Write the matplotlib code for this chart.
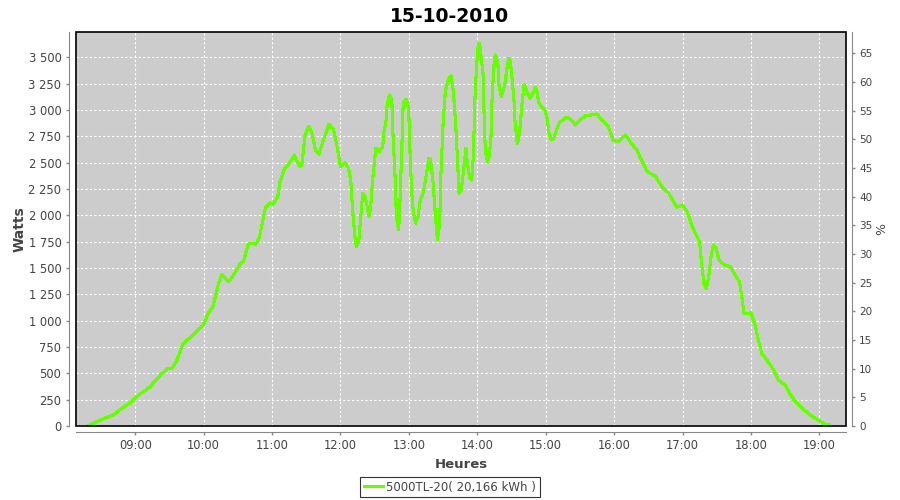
import matplotlib
matplotlib.use("Agg")
import matplotlib.pyplot as plt
from matplotlib.ticker import FuncFormatter, MultipleLocator
from matplotlib.patches import Rectangle
from matplotlib.lines import Line2D

title = "15-10-2010"
serie_label = "5000TL-20( 20,166 kWh )"

# heure (HH:MM:SS) et puissance (W)
heures = [
    "08:18:30", "08:20:00", "08:29:00", "08:41:00", "08:48:00", "08:55:00", "09:01:00", "09:13:00",
    "09:22:00", "09:27:30", "09:32:00", "09:36:00", "09:42:00", "09:51:00", "10:00:00", "10:04:00",
    "10:08:00", "10:11:00", "10:13:00", "10:16:00", "10:22:00", "10:27:00", "10:32:00", "10:35:00",
    "10:39:00", "10:42:00", "10:46:00", "10:49:00", "10:54:00", "10:58:00", "11:01:00", "11:05:00",
    "11:07:00", "11:11:00", "11:15:00", "11:19:30", "11:24:00", "11:26:00", "11:29:00", "11:32:00",
    "11:35:00", "11:38:00", "11:41:00", "11:45:00", "11:50:00", "11:54:00", "11:57:00", "12:00:00",
    "12:04:00", "12:07:00", "12:09:00", "12:10:00", "12:11:00", "12:13:00", "12:14:00", "12:16:00",
    "12:18:00", "12:19:30", "12:21:30", "12:23:30", "12:25:00", "12:26:30", "12:28:00", "12:30:00",
    "12:31:00", "12:34:00", "12:37:00", "12:38:00", "12:40:00", "12:41:00", "12:43:00", "12:45:00",
    "12:46:00", "12:48:00", "12:49:00", "12:51:00", "12:52:00", "12:54:00", "12:55:00", "12:57:30",
    "12:59:00", "13:00:00", "13:01:00", "13:02:30", "13:04:00", "13:06:00", "13:08:00", "13:10:00",
    "13:12:30", "13:15:30", "13:17:30", "13:19:00", "13:21:00", "13:24:00", "13:25:00", "13:27:00",
    "13:28:00", "13:30:00", "13:32:00", "13:35:00", "13:37:00", "13:39:00", "13:41:00", "13:42:30",
    "13:44:00", "13:46:00", "13:48:00", "13:50:00", "13:51:00", "13:53:00", "13:55:00", "13:56:30",
    "13:58:00", "13:59:30", "14:01:00", "14:02:00", "14:03:00", "14:05:00", "14:06:00", "14:07:00",
    "14:09:00", "14:10:30", "14:12:00", "14:13:00", "14:15:00", "14:16:00", "14:18:00", "14:19:00",
    "14:21:00", "14:22:00", "14:24:00", "14:26:00", "14:27:30", "14:29:00", "14:30:00", "14:32:00",
    "14:33:00", "14:35:00", "14:36:00", "14:37:30", "14:39:00", "14:41:00", "14:43:00", "14:46:00",
    "14:48:00", "14:51:00", "14:52:00", "14:54:00", "14:56:30", "14:59:00", "15:01:00", "15:03:00",
    "15:05:00", "15:07:00", "15:10:00", "15:12:00", "15:15:00", "15:18:00", "15:21:00", "15:26:00",
    "15:30:00", "15:34:30", "15:40:00", "15:45:00", "15:49:00", "15:55:00", "15:59:00", "16:04:00",
    "16:10:00", "16:15:00", "16:20:00", "16:24:00", "16:29:00", "16:36:00", "16:42:00", "16:48:00",
    "16:55:00", "17:00:00", "17:04:00", "17:08:00", "17:11:00", "17:15:00", "17:17:00", "17:19:00",
    "17:21:00", "17:23:00", "17:25:00", "17:27:00", "17:29:30", "17:32:00", "17:37:00", "17:42:00",
    "17:46:00", "17:50:00", "17:52:00", "17:54:00", "17:57:00", "18:00:00", "18:04:00", "18:06:30",
    "18:09:30", "18:14:00", "18:20:00", "18:24:00", "18:30:00", "18:34:00", "18:39:00", "18:45:00",
    "18:52:00", "18:59:00", "19:05:00", "19:09:00",
]
watts = [
    0, 10, 57, 107, 168, 215, 278, 373,
    484, 541, 548, 611, 785, 864, 969, 1070,
    1133, 1260, 1355, 1434, 1371, 1450, 1539, 1567,
    1726, 1735, 1726, 1798, 2068, 2121, 2108, 2178,
    2320, 2447, 2495, 2574, 2463, 2479, 2764, 2849,
    2780, 2621, 2581, 2716, 2868, 2811, 2653, 2463,
    2501, 2447, 2336, 2147, 2004, 1767, 1703, 1751,
    2020, 2210, 2178, 2083, 1988, 2083, 2320, 2526,
    2638, 2605, 2653, 2780, 2906, 3065, 3144, 3096,
    2780, 2336, 1988, 1862, 2083, 2716, 3065, 3103,
    3065, 2938, 2590, 2210, 2020, 1925, 1988, 2147,
    2210, 2400, 2543, 2526, 2336, 1893, 1767, 1925,
    2368, 2875, 3191, 3302, 3324, 3175, 2875, 2558,
    2210, 2242, 2431, 2638, 2526, 2368, 2336, 2558,
    3128, 3445, 3635, 3635, 3540, 3350, 2938, 2621,
    2510, 2558, 2748, 3128, 3492, 3524, 3445, 3239,
    3128, 3160, 3239, 3397, 3492, 3460, 3350, 3128,
    2906, 2685, 2716, 2843, 3033, 3239, 3191, 3112,
    3144, 3217, 3191, 3071, 3027, 3008, 2938, 2780,
    2716, 2732, 2827, 2881, 2906, 2932, 2922, 2859,
    2906, 2944, 2954, 2963, 2906, 2843, 2716, 2700,
    2764, 2685, 2621, 2526, 2415, 2374, 2273, 2210,
    2077, 2099, 2036, 1909, 1836, 1751, 1513, 1339,
    1308, 1418, 1608, 1719, 1688, 1577, 1529, 1513,
    1434, 1371, 1228, 1070, 1064, 1076, 943, 817,
    690, 627, 532, 437, 389, 310, 231, 168,
    104, 57, 19, 10,
]

heure_ticks = ["09:00", "10:00", "11:00", "12:00", "13:00", "14:00",
               "15:00", "16:00", "17:00", "18:00", "19:00"]


def en_minutes(s):
    p = [int(v) for v in s.split(":")]
    while len(p) < 3:
        p.append(0)
    return p[0] * 60 + p[1] + p[2] / 60.0


x = [en_minutes(h) for h in heures]
xt = [en_minutes(h) for h in heure_ticks]

gris_txt = "#444444"
gris_axe = "#888888"

fig = plt.figure(figsize=(9, 5), dpi=100)
fig.patch.set_facecolor("white")
ax = fig.add_axes([76 / 900, 74 / 500, 770 / 900, 394 / 500])
ax.set_facecolor("#cccccc")

ax.plot(x, watts, color="#66ff00", linewidth=1.5, antialiased=False, zorder=3)

ax.set_xlim(488, 1163.4)
ax.set_ylim(0, 3742)
ax.set_xticks(xt)
ax.set_xticklabels(heure_ticks)
ax.yaxis.set_major_locator(MultipleLocator(250))
ax.yaxis.set_major_formatter(FuncFormatter(lambda v, p: "{:,.0f}".format(v).replace(",", " ")))
ax.grid(True, color="white", linestyle=(0, (2, 2)), linewidth=0.8)
ax.set_axisbelow(True)

for s in ["top", "right"]:
    ax.spines[s].set_visible(False)
ax.spines["left"].set_position(("outward", 5))
ax.spines["bottom"].set_position(("outward", 4))
for s in ["left", "bottom"]:
    ax.spines[s].set_color(gris_axe)
ax.tick_params(axis="both", colors=gris_axe, labelcolor=gris_txt, labelsize=8.3, length=2, width=1)

# cadre noir du graphique
ax.add_patch(Rectangle((0, 0), 1, 1, transform=ax.transAxes, fill=False,
                       edgecolor="black", linewidth=1.2, zorder=5, clip_on=False))

ax.set_ylabel("Watts", fontsize=10, color=gris_txt, fontweight="bold", labelpad=1)
ax.set_xlabel("Heures", fontsize=9.5, color=gris_txt, fontweight="bold", labelpad=4)

ax2 = ax.twinx()
ax2.set_ylim(0, 68.7)
ax2.yaxis.set_major_locator(MultipleLocator(5))
for s in ["top", "left", "bottom"]:
    ax2.spines[s].set_visible(False)
ax2.spines["right"].set_position(("outward", 4))
ax2.spines["right"].set_color(gris_axe)
ax2.tick_params(axis="y", colors=gris_axe, labelcolor=gris_txt, labelsize=7.5, length=2, width=1)
ax2.set_ylabel("%", fontsize=9, color=gris_txt, labelpad=2)

fig.suptitle(title, x=0.5, y=0.985, fontsize=13.5, fontweight="bold", color="black")

h = Line2D([], [], color="#66ff00", linewidth=2.2)
leg = fig.legend([h], [serie_label], loc="center", bbox_to_anchor=(0.5, 0.026),
                 fontsize=8.5, frameon=True, fancybox=False, handlelength=1.6,
                 handletextpad=0.3, borderpad=0.3, borderaxespad=0)
leg.get_frame().set_edgecolor("black")
leg.get_frame().set_linewidth(0.8)
for t in leg.get_texts():
    t.set_color(gris_txt)

fig.savefig("out.png", dpi=100)
